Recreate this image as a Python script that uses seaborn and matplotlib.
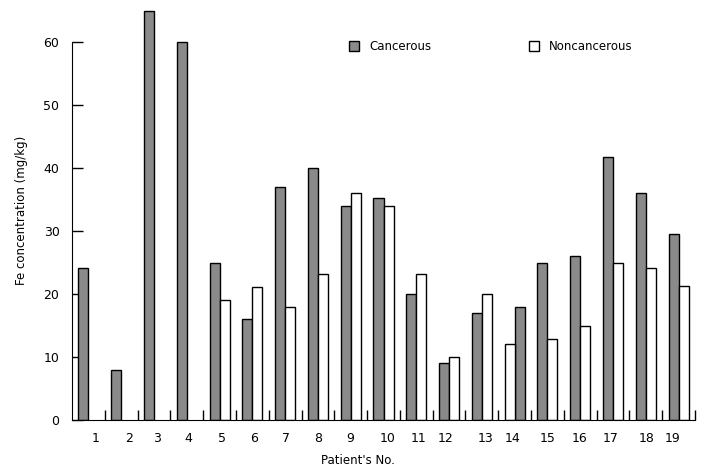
import matplotlib
matplotlib.use("Agg")
import matplotlib.pyplot as plt
import numpy as np
import pandas as pd
import seaborn as sns

# --- data ---
patients = list(range(1, 20))
cancerous = [24.1, 8, 65, 60, 25, 16, 37, 40, 34, 35.2, 20, 9, 17, 18, 25, 26, 41.8, 36, 29.5]
noncancerous = [np.nan, np.nan, np.nan, np.nan, 19, 21.1, 18, 23.1, 36, 33.9,
                23.1, 10, 20, 12, 12.8, 14.9, 25, 24.1, 21.2]
series = ["Cancerous", "Noncancerous"]

# --- layout quirks of the original ---
swapped = {14}  # noncancerous bar drawn on the left for this patient
label_shift = [0.23, 0.23, 0.09, 0.06, 0.07, 0.04, 0.02, 0.02, -0.02, 0.12,
               0.08, -0.11, 0.11, -0.06, 0.02, -0.03, -0.08, 0.02, -0.17]
half = 0.1525

rows = []
for p, c, n in zip(patients, cancerous, noncancerous):
    sign = -1 if p in swapped else 1
    rows.append({"pos": p - sign * half, "value": c, "tissue": series[0]})
    if not np.isnan(n):
        rows.append({"pos": p + sign * half, "value": n, "tissue": series[1]})
df = pd.DataFrame(rows)

sns.set_style("white")
plt.rcParams["font.family"] = ["DejaVu Sans"]
plt.rcParams.update({"text.color": "black", "xtick.color": "black",
                     "ytick.color": "black", "axes.labelcolor": "black"})

fig = plt.figure(figsize=(7.15, 4.76), dpi=100)
ax = fig.add_axes([72 / 715, 56 / 476, 623 / 715, 420 / 476])

sns.barplot(
    data=df, x="pos", y="value", hue="tissue", hue_order=series,
    palette={"Cancerous": "#8a8a8a", "Noncancerous": "white"},
    native_scale=True, dodge=False, width=1.0,
    edgecolor="black", linewidth=1.0, ax=ax,
)

ax.set_xlim(0.5, 19.5)
ax.set_ylim(0, 420 / 6.3)

for side in ["top", "right"]:
    ax.spines[side].set_visible(False)
ax.spines["left"].set_bounds(0, 60)
ax.spines["left"].set_color("black")
ax.spines["bottom"].set_color("black")

ax.set_yticks(range(0, 61, 10))
ax.tick_params(axis="y", left=True, direction="in", length=8, width=1,
               color="black", pad=9, labelsize=9)

ax.set_xticks([p + s for p, s in zip(patients, label_shift)])
ax.set_xticklabels([str(p) for p in patients])
ax.set_xticks(np.arange(1.5, 20, 1), minor=True)
ax.tick_params(axis="x", which="major", bottom=True, length=0, pad=9,
               labelsize=9)
ax.tick_params(axis="x", which="minor", bottom=True, direction="in",
               length=7, width=1, color="black")
ax.set_xlabel("")
ax.set_ylabel("")

fig.text(22 / 715, 1 - 210 / 476, "Fe concentration (mg/kg)", rotation=90,
         ha="center", va="center", fontsize=8.5)
fig.text(358 / 715, 1 - 461 / 476, "Patient's No.", ha="center", va="center",
         fontsize=8.5)

handles, labels = ax.get_legend_handles_labels()
ax.legend(handles, labels, ncol=2, frameon=False, loc="upper left",
          bbox_to_anchor=(349 / 715, 1 - 40 / 476),
          bbox_transform=fig.transFigure, fontsize=8.5,
          handlelength=0.85, handleheight=0.85, handletextpad=0.85,
          columnspacing=8.3, borderpad=0, borderaxespad=0)

fig.savefig("out.png", dpi=100)
